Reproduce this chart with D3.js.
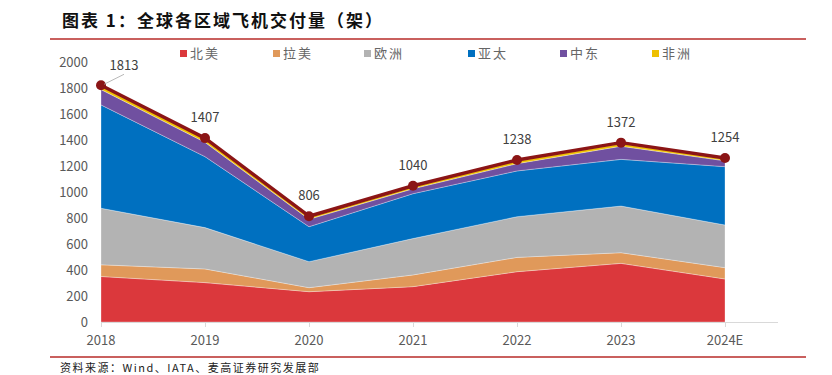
<!DOCTYPE html>
<html>
<head>
<meta charset="utf-8">
<script src="https://cdn.jsdelivr.net/npm/d3@7"></script>
<style>
  body { margin: 0; background: #fff; }
  svg text { font-family: "Noto Sans CJK SC", "Noto Sans", sans-serif; }
</style>
</head>
<body>
<div id="chart"></div>
<script>
// data
const years = ['2018', '2019', '2020', '2021', '2022', '2023', '2024E'];
const regions = ['北美', '拉美', '欧洲', '亚太', '中东', '非洲'];
const northAmerica = [350, 303, 233, 272, 387, 451, 331];
const latinAmerica = [90, 105, 31, 90, 110, 82, 87];
const europe = [435, 318, 200, 280, 313, 359, 328];
const asiaPacific = [795, 546, 269, 345, 352, 359, 449];
const middleEast = [118, 110, 57, 38, 56, 101, 45];
const africa = [25, 25, 16, 15, 20, 20, 14];
const totals = [1813, 1407, 806, 1040, 1238, 1372, 1254];
const yTicks = [0, 200, 400, 600, 800, 1000, 1200, 1400, 1600, 1800, 2000];

const colors = ['#DB383C', '#E0995A', '#B3B3B3', '#0070C0', '#7050A0', '#EEC000'];
const lineColor = '#8B1516';

const W = 832, H = 375;
const svg = d3.select('#chart').append('svg')
  .attr('width', W).attr('height', H);

// title + rules
svg.append('text')
  .attr('x', 62).attr('y', 27)
  .style('font-size', '17px').style('font-weight', 'bold')
  .style('letter-spacing', '2px').attr('fill', '#111')
  .text('图表 1：全球各区域飞机交付量（架）');
svg.append('line').attr('x1', 50).attr('x2', 806).attr('y1', 39).attr('y2', 39)
  .attr('stroke', '#C9605E').attr('stroke-width', 2);
svg.append('line').attr('x1', 50).attr('x2', 806).attr('y1', 357).attr('y2', 357)
  .attr('stroke', '#C9605E').attr('stroke-width', 2);
svg.append('text')
  .attr('x', 60).attr('y', 372)
  .style('font-size', '11px').style('letter-spacing', '1.5px').attr('fill', '#222')
  .text('资料来源：Wind、IATA、麦高证券研究发展部');

// scales
let x = d3.scalePoint().domain(years).range([101, 725]);
let y = d3.scaleLinear().domain([0, 2000]).range([322, 62]);

// build table for stack
const series = [northAmerica, latinAmerica, europe, asiaPacific, middleEast, africa];
const table = years.map((yr, i) => {
  let row = { year: yr };
  regions.forEach((r, k) => { row[r] = series[k][i]; });
  return row;
});
const stacked = d3.stack().keys(regions)(table);

let area = d3.area()
  .x(d => x(d.data.year))
  .y0(d => y(d[0]))
  .y1(d => y(d[1]));

svg.append('g').selectAll('path')
  .data(stacked)
  .enter().append('path')
  .attr('d', area)
  .attr('fill', (d, i) => colors[i])
  .attr('stroke', 'rgba(255,255,255,0.5)')
  .attr('stroke-width', 0.6);

// y axis labels
svg.append('g').selectAll('text')
  .data(yTicks)
  .enter().append('text')
  .attr('x', 88).attr('y', d => y(d) + 5)
  .attr('text-anchor', 'end')
  .style('font-size', '13px').attr('fill', '#595959')
  .text(d => d);

// x axis
svg.append('line').attr('x1', 101).attr('x2', 778).attr('y1', 322.5).attr('y2', 322.5)
  .attr('stroke', '#D9D9D9');
svg.append('g').selectAll('line')
  .data(years)
  .enter().append('line')
  .attr('x1', d => x(d) + 0.5).attr('x2', d => x(d) + 0.5)
  .attr('y1', 322).attr('y2', 327)
  .attr('stroke', '#D9D9D9');
svg.append('g').selectAll('text')
  .data(years)
  .enter().append('text')
  .attr('x', d => x(d)).attr('y', 345)
  .attr('text-anchor', 'middle')
  .style('font-size', '13px').attr('fill', '#595959')
  .text(d => d);

// total line, drawn a touch above the stack top so the yellow band shows
let line = d3.line()
  .x((d, i) => x(years[i]))
  .y(d => y(d) - 1);
svg.append('path')
  .datum(totals)
  .attr('d', line)
  .attr('fill', 'none')
  .attr('stroke', lineColor)
  .attr('stroke-width', 3.5)
  .attr('stroke-linejoin', 'round');
svg.append('g').selectAll('circle')
  .data(totals)
  .enter().append('circle')
  .attr('cx', (d, i) => x(years[i]))
  .attr('cy', d => y(d) - 1)
  .attr('r', 5)
  .attr('fill', lineColor);

// labels
svg.append('line')
  .attr('x1', x(years[0]) + 3).attr('y1', y(totals[0]) - 2)
  .attr('x2', x(years[0]) + 23).attr('y2', y(totals[0]) - 12)
  .attr('stroke', '#A6A6A6').attr('stroke-width', 0.8);
svg.append('g').selectAll('text')
  .data(totals)
  .enter().append('text')
  .attr('x', (d, i) => i === 0 ? x(years[i]) + 23 : x(years[i]))
  .attr('y', (d, i) => i === 0 ? y(d) - 16 : y(d) - 17)
  .attr('text-anchor', 'middle')
  .style('font-size', '13px').attr('fill', '#404040')
  .text(d => d);

// legend
const legendX = [180, 273, 364, 468, 560, 652];
let legend = svg.append('g').selectAll('g')
  .data(regions)
  .enter().append('g')
  .attr('transform', (d, i) => 'translate(' + legendX[i] + ',55)');
legend.append('rect')
  .attr('x', 0).attr('y', -5).attr('width', 7).attr('height', 7)
  .attr('fill', (d, i) => colors[i]);
legend.append('text')
  .attr('x', 10).attr('y', 3)
  .style('font-size', '13px').style('letter-spacing', '2px').attr('fill', '#666')
  .text(d => d);
</script>
</body>
</html>
